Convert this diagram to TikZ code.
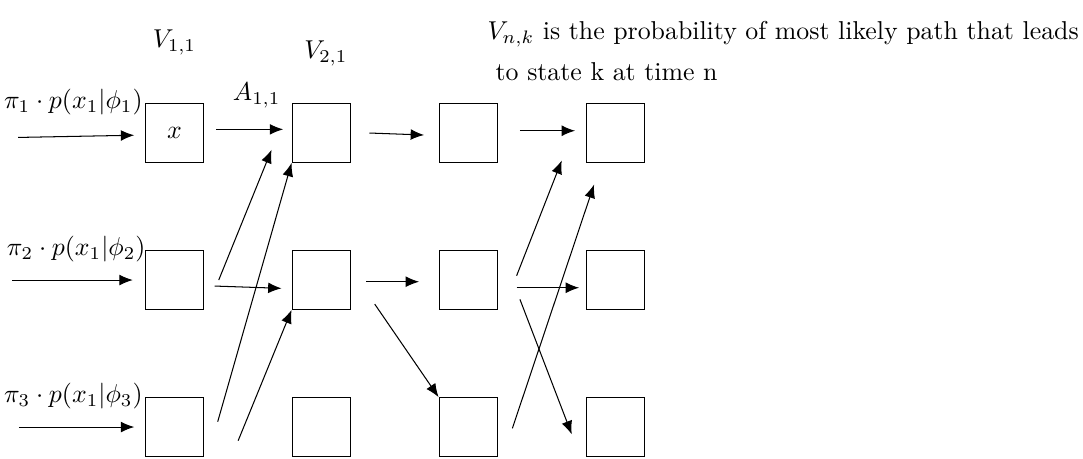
\documentclass[tikz,border=0pt]{standalone}
\usetikzlibrary{arrows.meta,positioning,calc}

\begin{document}
\begin{tikzpicture}[
    >={Latex[length=5.2pt,width=4.2pt]},
    state/.style={draw, minimum size=0.8cm, inner sep=0pt},
    prob/.style={anchor=base east, inner sep=0pt},
    label/.style={anchor=base},
    note/.style={anchor=base west, inner sep=0pt},
    arrow/.style={->}
  ]
  \useasboundingbox (-2.374,1.81) rectangle (12.361,-4.435);

  % trellis of states
  \node[state] (v11) at (0,0) {$x$};
  \node[state] (v12) at (0,-2) {};
  \node[state] (v13) at (0,-4) {};
  \node[state] (v21) at (2,0) {};
  \node[state] (v22) at (2,-2) {};
  \node[state] (v23) at (2,-4) {};
  \node[state] (v31) at (4,0) {};
  \node[state] (v32) at (4,-2) {};
  \node[state] (v33) at (4,-4) {};
  \node[state] (v41) at (6,0) {};
  \node[state] (v42) at (6,-2) {};
  \node[state] (v43) at (6,-4) {};

  % labels
  \node[label] (lv11) at ([yshift=0.75cm]v11.north) {$V_{1,1}$};
  \node[label] (lv21) at ([shift={(0.06,0.61)}]v21.north) {$V_{2,1}$};
  \node[label] (la11) at ([shift={(-0.475,0.034)}]v21.north west) {$A_{1,1}$};
  \node[note] (note1) at ([shift={(0.66,0.86)}]v31.north west)
    {$V_{n,k}$ is the probability of most likely path that leads};
  \node[note] (note2) at ([shift={(0.11,-0.55)}]note1.base west)
    {to state k at time n};

  % initial probabilities
  \node[prob] (p1) at ([shift={(-0.02,-0.075)}]v11.north west) {$\pi_1 \cdot p(x_1|\phi_1)$};
  \node[prob] (p2) at ([shift={(0.02,-0.075)}]v12.north west) {$\pi_2 \cdot p(x_1|\phi_2)$};
  \node[prob] (p3) at ([shift={(-0.02,-0.075)}]v13.north west) {$\pi_3 \cdot p(x_1|\phi_3)$};
  \draw[arrow] ([shift={(-1.72,-0.06)}]v11.west) -- ([shift={(-0.14,-0.03)}]v11.west);
  \draw[arrow] ([xshift=-1.8cm]v12.west) -- ([xshift=-0.16cm]v12.west);
  \draw[arrow] ([xshift=-1.71cm]v13.west) -- ([xshift=-0.14cm]v13.west);

  % step 1 to 2
  \draw[arrow] ([shift={(0.163,0.05)}]v11.east) -- ([shift={(-0.114,0.05)}]v21.west);
  \draw[arrow] ([shift={(0.14,-0.082)}]v12.east) -- ([shift={(-0.136,-0.113)}]v22.west);
  \draw[arrow] ([xshift=0.195cm]v12.east) -- ([shift={(-0.272,0.18)}]v21.south west);
  \draw[arrow] ([shift={(0.181,0.072)}]v13.east) -- (v21.south west);
  \draw[arrow] ([shift={(0.459,-0.186)}]v13.east) -- (v22.south west);

  % step 2 to 3
  \draw[arrow] ([xshift=0.245cm]v21.east) -- ([shift={(-0.197,-0.027)}]v31.west);
  \draw[arrow] ([shift={(0.2,-0.023)}]v22.east) -- ([shift={(-0.265,-0.023)}]v32.west);
  \draw[arrow] ([shift={(0.317,-0.327)}]v22.east) -- (v33.north west);

  % step 3 to 4
  \draw[arrow] ([shift={(0.293,0.031)}]v31.east) -- ([shift={(-0.143,0.031)}]v41.west);
  \draw[arrow] ([shift={(0.248,0.059)}]v32.east) -- ([shift={(-0.324,0.034)}]v41.south west);
  \draw[arrow] ([shift={(0.248,-0.105)}]v32.east) -- ([shift={(-0.088,-0.105)}]v42.west);
  \draw[arrow] ([shift={(0.293,-0.263)}]v32.east) -- ([shift={(-0.188,-0.1)}]v43.west);
  \draw[arrow] ([shift={(0.19,-0.018)}]v33.east) -- ([shift={(0.116,-0.293)}]v41.south west);
\end{tikzpicture}
\end{document}
